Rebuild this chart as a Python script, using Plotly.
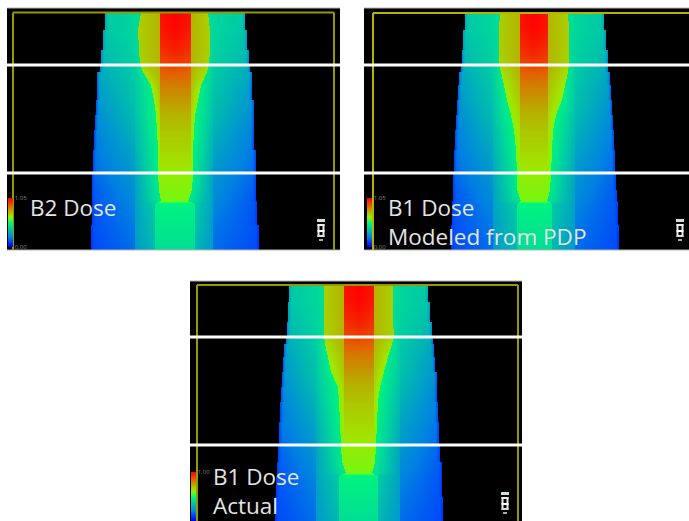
import numpy as np
import plotly.graph_objects as go

CANVAS_W, CANVAS_H = 689, 521

# Dose-map rows (pixel row in the first panel's frame).
ROW_Y = [13, 30, 50, 64, 72, 85, 100, 115, 130, 150, 173, 190, 201, 204, 225, 250]

# Dose levels (fraction of the colour range) across the beam, edge to centre.
EDGE_DOSE     = [.28, .26, .22, .18, .16, .14, .13, .12, .11, .10, .10, .10, .09, .09, .09, .08]
RIM_DOSE      = [.37, .36, .34, .32, .29, .27, .25, .23, .21, .19, .17, .15, .14, .14, .13, .12]
SHLD_OUT_DOSE = [.40, .40, .39, .38, .37, .36, .35, .33, .31, .28, .25, .23, .22, .21, .19, .17]
SHLD_IN_DOSE  = [.40, .40, .39, .38, .38, .37, .36, .35, .33, .31, .28, .27, .27, .27, .26, .25]
FLANK_DOSE    = [.42, .42, .42, .42, .45, .46, .47, .48, .48, .47, .46, .45, .45, .37, .35, .32]
CORE_DOSE     = [.67, .67, .67, .66, .64, .62, .61, .60, .60, .60, .59, .58, .58, .47, .45, .42]
CORE_IN_DOSE  = [.72, .72, .72, .72, .72, .70, .68, .66, .64, .62, .60, .59, .58, .47, .45, .42]
HOT_DOSE      = [.97, .96, .92, .88, .84, .80, .76, .72, .69, .66, .62, .60, .59, .48, .45, .42]
CENTRE_DOSE   = [1.0, .99, .95, .90, .85, .80, .76, .72, .69, .66, .62, .60, .59, .48, .45, .42]

# Panel 1: B2 Dose
P1_OUTER_L = [105, 103, 101, 100, 97, 97, 96, 95, 94, 93, 92, 92, 92, 92, 91, 91]
P1_OUTER_R = [245, 247, 249, 250, 252, 252, 254, 254, 254, 256, 256, 256, 257, 257, 259, 260]
P1_CORE_L  = [141, 138, 139, 140, 143, 151, 154, 156, 157, 158, 158, 159, 161, 155, 155, 155]
P1_CORE_R  = [208, 210, 210, 209, 207, 201, 198, 195, 194, 193, 193, 192, 188, 195, 195, 195]
P1_HOT_L, P1_HOT_R = 160, 191
P1_SHLD_L, P1_SHLD_R = 135, 213

# Panel 2: B1 Dose, modeled
P2_OUTER_L = [465, 463, 462, 461, 459, 458, 457, 456, 455, 454, 453, 453, 452, 452, 451, 450]
P2_OUTER_R = [604, 606, 608, 608, 610, 611, 612, 613, 614, 615, 616, 617, 618, 618, 619, 620]
P2_CORE_L  = [500, 499, 499, 499, 501, 504, 507, 511, 514, 516, 517, 517, 521, 517, 517, 517]
P2_CORE_R  = [568, 569, 569, 569, 568, 565, 562, 556, 553, 552, 551, 550, 547, 552, 552, 552]
P2_HOT_L, P2_HOT_R = 520, 548
P2_SHLD_L, P2_SHLD_R = 493, 575

# Panel 3: B1 Dose, actual
P3_OUTER_L = [289, 288, 287, 286, 284, 283, 282, 281, 280, 279, 278, 277, 277, 276, 275, 274]
P3_OUTER_R = [428, 430, 432, 433, 434, 435, 437, 437, 438, 439, 440, 442, 442, 442, 443, 443]
P3_CORE_L  = [324, 324, 324, 324, 325, 328, 331, 338, 339, 340, 341, 342, 346, 339, 339, 339]
P3_CORE_R  = [393, 393, 393, 394, 392, 388, 384, 380, 378, 377, 376, 375, 372, 378, 378, 378]
P3_HOT_L, P3_HOT_R = 344, 374
P3_SHLD_L, P3_SHLD_R = 316, 400

COLOR_STOPS = [0, .1, .2, .3, .4, .5, .58, .63, .72, .85, 1]
COLORS = ["rgb(0,0,255)", "rgb(0,60,255)", "rgb(0,130,225)", "rgb(0,175,185)", "rgb(0,215,155)",
          "rgb(0,250,120)", "rgb(110,250,20)", "rgb(160,230,0)", "rgb(180,180,0)", "rgb(230,90,0)",
          "rgb(255,0,0)"]
COLORSCALE = [[s, c] for s, c in zip(COLOR_STOPS, COLORS)]

PANELS = [
    dict(box=(7, 8, 340, 250), shift=0, max=1.05, tick="1.05",
         outer=(P1_OUTER_L, P1_OUTER_R), core=(P1_CORE_L, P1_CORE_R), hot=(P1_HOT_L, P1_HOT_R), shld=(P1_SHLD_L, P1_SHLD_R),
         frame=[(13, 250, 13, 12.5), (13, 12.5, 334, 12.5), (334, 12.5, 334, 250)], frame_color="#989800", rules=(65, 173),
         edges=(8, 250), bar=(8, 198), car=(316.5, 219),
         label=("B2 Dose", 29, 207)),
    dict(box=(364, 8, 689, 250), shift=0, max=1.05, tick="1.05",
         outer=(P2_OUTER_L, P2_OUTER_R), core=(P2_CORE_L, P2_CORE_R), hot=(P2_HOT_L, P2_HOT_R), shld=(P2_SHLD_L, P2_SHLD_R),
         frame=[(373, 250, 373, 13), (373, 13, 689, 13)], frame_color="#b5b500", rules=(65, 173),
         edges=(8, 250), bar=(367, 198), car=(675.5, 219),
         label=("B1 Dose<br>Modeled from PDP", 387, 221.5)),
    dict(box=(190, 281, 522, 521), shift=272, max=1.00, tick="1.00",
         outer=(P3_OUTER_L, P3_OUTER_R), core=(P3_CORE_L, P3_CORE_R), hot=(P3_HOT_L, P3_HOT_R), shld=(P3_SHLD_L, P3_SHLD_R),
         frame=[(197, 521, 197, 285), (197, 285, 518, 285), (518, 285, 518, 521)], frame_color="#989800", rules=(337, 445),
         edges=(281,), bar=(191, 472), car=(500.5, 492),
         label=("B1 Dose<br>Actual", 212, 491)),
]


def dose_map(p):
    x0, y0, x1, y1 = p["box"]
    xs = np.arange(x0, x1) + 0.5
    ys = np.arange(y0, y1) + 0.5
    z = np.full((len(ys), len(xs)), np.nan)
    row_y = np.array(ROW_Y, dtype=float)
    at = lambda arr, y: float(np.interp(y, row_y, arr))
    for i, py in enumerate(ys):
        y = py - p["shift"]
        if y < row_y[0]:
            continue
        step = max(0, int(np.searchsorted(row_y, y, side="right")) - 1)
        oL, oR = p["outer"][0][step], p["outer"][1][step]
        cL, cR = at(p["core"][0], y), at(p["core"][1], y)
        sL, sR = p["shld"]
        e = 0.01
        hL, hR = max(p["hot"][0], cL + 2 * e), min(p["hot"][1], cR - 2 * e)
        mid = (hL + hR) / 2
        left_x = [oL, oL + 3, sL - e, sL, cL - e, cL, hL - e, hL, mid]
        right_x = [hR, hR + e, cR, cR + e, sR, sR + e, oR - 3, oR]
        a = [at(v, y) for v in (EDGE_DOSE, RIM_DOSE, SHLD_OUT_DOSE, SHLD_IN_DOSE, FLANK_DOSE,
                                CORE_DOSE, CORE_IN_DOSE, HOT_DOSE, CENTRE_DOSE)]
        vals = a + a[-2::-1]
        row = np.interp(xs, left_x + right_x, vals) * p["max"]
        row[(xs < oL) | (xs > oR)] = np.nan
        z[i] = row
    return xs, ys, z


fig = go.Figure()
shapes, annotations, layout_axes = [], [], {}

for n, p in enumerate(PANELS, start=1):
    x0, y0, x1, y1 = p["box"]
    suffix = "" if n == 1 else str(n)
    xs, ys, z = dose_map(p)
    bx, by = p["bar"]
    fig.add_trace(go.Heatmap(
        x=xs, y=ys, z=z, xaxis="x" + suffix, yaxis="y" + suffix,
        colorscale=COLORSCALE, zmin=0, zmax=p["max"], hoverinfo="skip",
        colorbar=dict(
            x=bx / CANVAS_W, xanchor="left", y=1 - (by + 49) / CANVAS_H, yanchor="bottom",
            thicknessmode="pixels", thickness=5, lenmode="pixels", len=49,
            outlinewidth=0, borderwidth=0, xpad=0, ypad=0, ticks="",
            tickvals=[0, p["max"]], ticktext=["0.00", p["tick"]],
            tickfont=dict(size=6, color="#858585", family="Open Sans"),
        ),
    ))
    layout_axes["xaxis" + suffix] = dict(
        domain=[x0 / CANVAS_W, x1 / CANVAS_W], range=[x0, x1], visible=False,
        anchor="y" + suffix, fixedrange=True)
    layout_axes["yaxis" + suffix] = dict(
        domain=[1 - y1 / CANVAS_H, 1 - y0 / CANVAS_H], range=[y1, y0], visible=False,
        anchor="x" + suffix, fixedrange=True)

    xr, yr = "x" + suffix, "y" + suffix
    for ey in p["edges"]:
        shapes.append(dict(type="line", xref=xr, yref="paper", x0=x0, x1=x1,
                           y0=1 - ey / CANVAS_H, y1=1 - ey / CANVAS_H,
                           line=dict(color="#b5b5b5", width=1), layer="above"))
    for ax, ay, bx2, by2 in p["frame"]:
        shapes.append(dict(type="line", xref=xr, yref=yr, x0=ax, y0=ay, x1=bx2, y1=by2,
                           line=dict(color=p["frame_color"], width=2), layer="above"))
    for ry in p["rules"]:
        shapes.append(dict(type="line", xref=xr, yref=yr, x0=x0, x1=x1, y0=ry, y1=ry,
                           line=dict(color="#ffffff", width=3), layer="above"))
    cx, cy = p["car"]
    for rx0, ry0, rx1, ry1, col in [(0.5, 0, 8.5, 3, "#cfe0dc"), (1, 5, 3, 18, "#e8e8e8"),
                                    (6, 5, 8, 18, "#e8e8e8"), (1, 5, 8, 7, "#eeeeee"),
                                    (1, 11, 8, 13, "#ffffff"), (1, 16, 8, 18, "#dddddd"),
                                    (2.5, 20, 6.5, 22, "#aaaaaa")]:
        shapes.append(dict(type="rect", xref=xr, yref=yr, x0=cx + rx0, x1=cx + rx1,
                           y0=cy + ry0, y1=cy + ry1, fillcolor=col, line=dict(width=0), layer="above"))
    text, tx, ty = p["label"]
    annotations.append(dict(text=text, xref=xr, yref=yr, x=tx, y=ty, xanchor="left", yanchor="middle",
                            align="left", showarrow=False, borderpad=0,
                            font=dict(family="Open Sans", size=22.5, color="#e4e4e4")))

fig.update_layout(
    width=CANVAS_W, height=CANVAS_H, autosize=False,
    margin=dict(l=0, r=0, t=0, b=0), paper_bgcolor="white", plot_bgcolor="black",
    shapes=shapes, annotations=annotations, showlegend=False, **layout_axes,
)

fig.write_html("out.html", config=dict(displayModeBar=False, responsive=False),
               post_script="document.body.style.margin='0';document.body.style.overflow='hidden';")
